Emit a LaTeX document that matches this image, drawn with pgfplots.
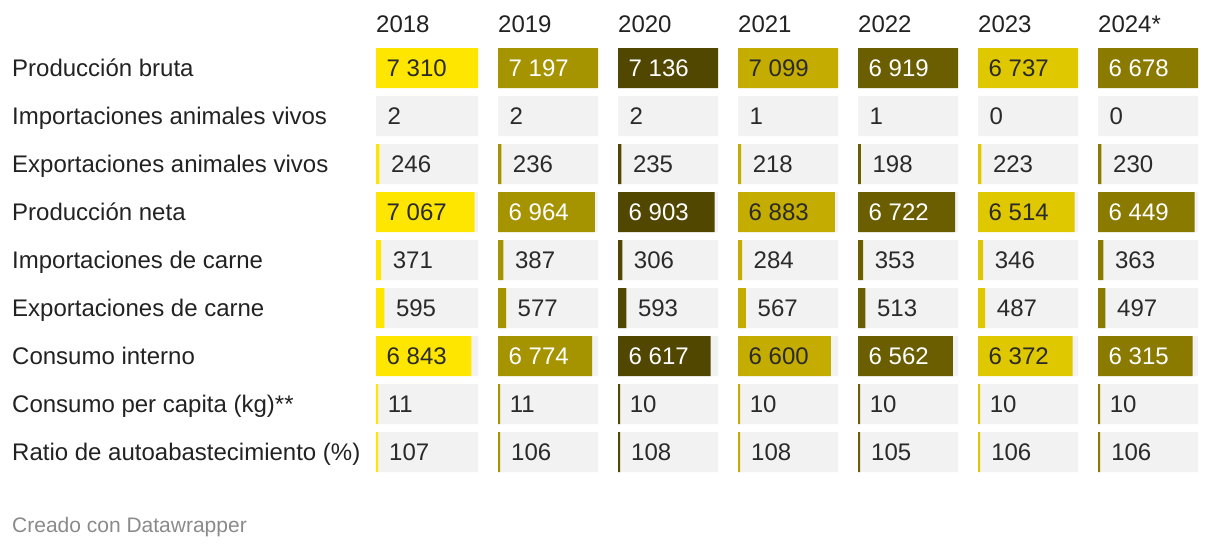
\documentclass[border=0pt]{standalone}
\usepackage{fontspec}
\setmainfont{Liberation Sans}
\usepackage{pgfplots}
\usepackage{pgfplotstable}
\pgfplotsset{compat=1.18}

\definecolor{c2018}{HTML}{FFE600}
\definecolor{c2019}{HTML}{A69300}
\definecolor{c2020}{HTML}{524700}
\definecolor{c2021}{HTML}{C4AC00}
\definecolor{c2022}{HTML}{6B5E00}
\definecolor{c2023}{HTML}{E0C800}
\definecolor{c2024}{HTML}{8A7A00}
\definecolor{cellgray}{HTML}{F2F2F2}
\definecolor{valtext}{HTML}{2A2A2A}
\definecolor{labtext}{HTML}{222222}
\definecolor{credit}{HTML}{8A8A8A}

\pgfplotstableread{
row v2018 v2019 v2020 v2021 v2022 v2023 v2024
1 7310 7197 7136 7099 6919 6737 6678
2 2 2 2 1 1 0 0
3 246 236 235 218 198 223 230
4 7067 6964 6903 6883 6722 6514 6449
5 371 387 306 284 353 346 363
6 595 577 593 567 513 487 497
7 6843 6774 6617 6600 6562 6372 6315
8 11 11 10 10 10 10 10
9 107 106 108 108 105 106 106
}\datatable

\newcommand{\bigfont}{\fontsize{24pt}{28pt}\selectfont}

\pgfplotsset{
  /pgf/number format/.cd, 1000 sep={\ }, assume math mode=true,
  /pgfplots/.cd,
  colaxis/.style={
    scale only axis, height=432pt, anchor=north west,
    xmin=0, ymin=0.5, ymax=9.5, y dir=reverse,
    axis line style={draw=none}, tick style={draw=none},
    major tick length=0pt,
    xtick=\empty, ytick=\empty, clip=false,
    title style={at={(0,1)}, anchor=base west, inner sep=0pt,
      yshift=6pt, font=\bigfont, text=labtext},
  },
}

% #1 left, #2 width, #3 year, #4 column, #5 column max, #6 bar colour, #7 label colour on bar, #8 extra options
\newcommand{\yearaxis}[8]{%
\begin{axis}[colaxis, at={(#1pt,-44pt)}, width=#2pt, xmax=#5, title={#3}, #8]
  \addplot[xbar, bar shift=0pt, bar width=40pt, fill=cellgray, draw=none]
    table[x expr=#5, y=row]{\datatable};
  \addplot[xbar, bar shift=0pt, bar width=40pt, fill=#6, draw=none,
    restrict expr to domain={\thisrow{#4}}{5:100000}]
    table[x expr={max(\thisrow{#4},#5*0.02)}, y=row]{\datatable};
  \addplot[draw=none, mark=none, nodes near coords,
    point meta={\thisrow{#4}},
    restrict expr to domain={\thisrow{#4}}{-1:3000},
    nodes near coords style={anchor=base west, inner sep=0pt, xshift=11.5pt,
      yshift=-8pt, text=valtext, font=\bigfont}]
    table[x expr={\thisrow{#4}}, y=row]{\datatable};
  \addplot[draw=none, mark=none, nodes near coords,
    point meta={\thisrow{#4}},
    restrict expr to domain={\thisrow{#4}}{3000:100000},
    nodes near coords style={anchor=base west, inner sep=0pt, xshift=10.5pt,
      yshift=-8pt, text=#7, font=\bigfont}]
    table[x expr=0, y=row]{\datatable};
\end{axis}}

\begin{document}
\begin{tikzpicture}
\yearaxis{376}{102}{2018}{v2018}{7310}{c2018}{valtext}{%
  ytick={1,2,3,4,5,6,7,8,9},
  yticklabels={Producción bruta, Importaciones animales vivos,
    Exportaciones animales vivos, Producción neta, Importaciones de carne,
    Exportaciones de carne, Consumo interno, Consumo per capita (kg)**,
    Ratio de autoabastecimiento (\%)},
  yticklabel style={anchor=base west, inner sep=0pt, xshift=-364pt,
    yshift=-8pt, font=\bigfont, text=labtext}}
\yearaxis{498}{100}{2019}{v2019}{7197}{c2019}{white}{}
\yearaxis{618}{100}{2020}{v2020}{7136}{c2020}{white}{}
\yearaxis{738}{100}{2021}{v2021}{7099}{c2021}{valtext}{}
\yearaxis{858}{100}{2022}{v2022}{6919}{c2022}{white}{}
\yearaxis{978}{100}{2023}{v2023}{6737}{c2023}{valtext}{}
\yearaxis{1098}{100}{2024*}{v2024}{6678}{c2024}{white}{}
\node[anchor=base west, inner sep=0pt, text=credit,
  font=\fontsize{21pt}{25pt}\selectfont] at (12pt,-532pt) {Creado con Datawrapper};
\pgfresetboundingbox
\path (0pt,0pt) rectangle (1220pt,-548pt);
\end{tikzpicture}
\end{document}
